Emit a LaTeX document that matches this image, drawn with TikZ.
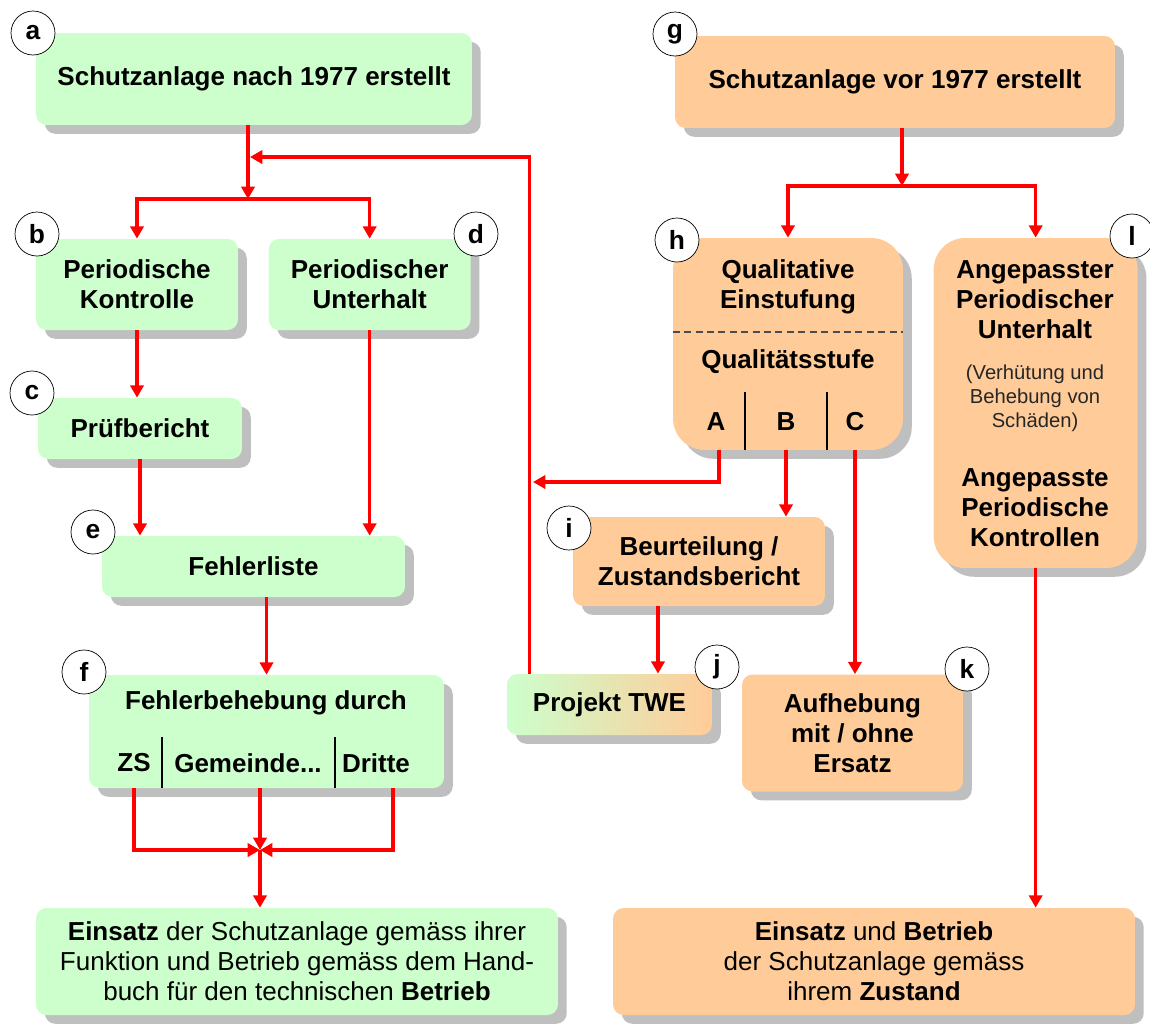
\documentclass[tikz,border=0pt]{standalone}
\usepackage{fontspec}
\setmainfont{Liberation Sans}
\usepackage{tikz}
\usetikzlibrary{calc,positioning,arrows.meta,shadows}
\definecolor{grn}{HTML}{CCFFCC}
\definecolor{org}{HTML}{FFCC99}

\begin{document}
\begin{tikzpicture}
		[x=0.02cm, y=-0.02cm, font=\bfseries\fontsize{14.8}{17}\selectfont,
		% STYLES
		every node/.style={align=center},
		% every step is a rounded box with a grey shadow
		box/.style={rectangle, rounded corners=6pt, inner sep=0pt,
			drop shadow={shadow xshift=5pt, shadow yshift=-5pt, fill=black!25, opacity=1}},
		% steps for plants built after 1977
		newBox/.style={box, fill=grn},
		% steps for plants built before 1977
		oldBox/.style={box, fill=org},
		% the letter in the little circle
		tag/.style={circle, draw, thin, fill=white, minimum size=0.88cm, inner sep=0pt, font=\bfseries\fontsize{15}{15}\selectfont},
		% normal (not bold) text
		plainText/.style={font=\mdseries\fontsize{14.8}{17}\selectfont},
		smallText/.style={font=\mdseries\fontsize{11.5}{13.6}\selectfont, text=black!85},
		% separators inside a box
		sep/.style={line width=0.6pt},
		% red links
		link/.style={->, red, line width=2pt},
		>={Triangle[width=7.5pt,length=7pt]}]

		\path[use as bounding box, fill=white] (0,0) rectangle (1150,1029);

		% Left column
		\node [newBox, minimum width=8.72cm, minimum height=1.84cm] (a) at (254,79) {Schutzanlage nach 1977 erstellt};
		\node [newBox, minimum width=4.04cm, minimum height=1.82cm] (b) at (137,284.5) {Periodische\\Kontrolle};
		\node [newBox, minimum width=4.04cm, minimum height=1.82cm, right=0.6cm of b] (d) {Periodischer\\Unterhalt};
		\node [newBox, minimum width=4.08cm, minimum height=1.22cm] (c) at (140,428.5) {Prüfbericht};
		\node [newBox, minimum width=6.06cm, minimum height=1.22cm] (e) at (253.5,566.5) {Fehlerliste};
		\node [newBox, minimum width=7.1cm, minimum height=2.26cm] (f) at (266.5,731.5) {};
		\node (fTitle) at (266,703) {Fehlerbehebung durch};
		\node (fZS) at (134,763) {ZS};
		\node (fGem) at (248,763) {Gemeinde...};
		\node (fDri) at (376,763) {Dritte};
		\draw[sep] (162,737) -- (162,788);
		\draw[sep] (335,737) -- (335,788);
		\node [newBox, plainText, minimum width=10.44cm, minimum height=2.14cm] (bl) at (297,961.5)
			{\textbf{Einsatz} der Schutzanlage gemäss ihrer\\Funktion und Betrieb gemäss dem Hand-\\buch für den technischen \textbf{Betrieb}};

		% Right part
		\node [oldBox, minimum width=8.8cm, minimum height=1.84cm] (g) at (895,82) {Schutzanlage vor 1977 erstellt};
		\node [oldBox, rounded corners=18pt, minimum width=4.6cm, minimum height=4.24cm] (h) at (788,344) {};
		\node (hTitle) at (788,287) {Qualitative\\Einstufung};
		\draw[dashed, dash pattern=on 4pt off 2.5pt, black!70, line width=0.7pt] (h.west |- 0,332) -- (h.east |- 0,332);
		\node (hStufe) at (788,362) {Qualitätsstufe};
		\node (hA) at (716,422) {A};
		\node (hB) at (786,422) {B};
		\node (hC) at (855,422) {C};
		\draw[sep] (745,392) -- (745,392 |- h.south);
		\draw[sep] (827,392) -- (827,392 |- h.south);
		\node [oldBox, rounded corners=18pt, minimum width=4.08cm, minimum height=6.6cm,
			right=0.6cm of h.north east, anchor=north west] (l) {};
		\node (lTop) at (1035,300) {Angepasster\\Periodischer\\Unterhalt};
		\node [smallText] (lMid) at (1035,398) {(Verhütung und\\Behebung von\\Schäden)};
		\node (lBot) at (1035,508) {Angepasste\\Periodische\\Kontrollen};
		\node [oldBox, minimum width=5.04cm, minimum height=1.78cm] (i) at (699,561.5) {Beurteilung /\\Zustandsbericht};
		\node [box, left color=grn, right color=org, minimum width=4.1cm, minimum height=1.22cm] (j) at (609.5,704.5) {Projekt TWE};
		\node [oldBox, minimum width=4.42cm, minimum height=2.34cm] (k) at (852.5,733) {Aufhebung\\mit / ohne\\Ersatz};
		\node [oldBox, plainText, minimum width=10.44cm, minimum height=2.14cm] (br) at (874,961.5)
			{\textbf{Einsatz} und \textbf{Betrieb}\\der Schutzanlage gemäss\\ihrem \textbf{Zustand}};

		%%%%%%%%%%%%%%%
		% Letters
		\node [tag] (tagA) at (33,33) {a};
		\node [tag] (tagB) at (37,234) {b};
		\node [tag] (tagC) at (32,393) {c};
		\node [tag] (tagD) at (476,234) {d};
		\node [tag] (tagE) at (93,532) {e};
		\node [tag] (tagF) at (84,672) {f};
		\node [tag] (tagG) at (675,34) {g};
		\node [tag] (tagH) at (677,240) {h};
		\node [tag] (tagI) at (569,528) {i};
		\node [tag] (tagJ) at (717,667) {j};
		\node [tag] (tagK) at (967,669) {k};
		\node [tag] (tagL) at (1132,236) {l};

		%%%%%%%%%%%%%%%%
		% Links
		\coordinate (aSplit) at (248,199);
		\coordinate (aLoop) at (250,157);
		\coordinate (gSplit) at (902,186);
		\coordinate (loopA) at (533,482);
		\coordinate (fJoin) at (260,850);
		\coordinate (iOut) at ($(i.south)+(-41,0)$);
		\coordinate (jOut) at ($(j.north west)+(23,0)$);
		\coordinate (fDriOut) at ($(fDri |- f.south)+(17,0)$);

		\draw[link] (a.south -| aSplit) -- (aSplit);
		\draw[link] (aSplit) -| (b);
		\draw[link] (aSplit) -| (d);
		\draw[link] (b.south) -- (b.south |- c.north);
		\draw[link] (c.south) -- (c.south |- e.north);
		\draw[link] (d.south) -- (d.south |- e.north);
		\draw[link] (f.north |- e.south) -- (f.north);
		\draw[link] (fZS |- f.south) |- (fJoin);
		\draw[link] (f.south -| fJoin) -- (fJoin);
		\draw[link] (fDriOut) |- (fJoin);
		\draw[link] (fJoin) -- (fJoin |- bl.north);

		\draw[link] (g.south -| gSplit) -- (gSplit);
		\draw[link] (gSplit) -| (h);
		\draw[link] (gSplit) -| (l);
		\draw[link] ($(hA |- h.south)+(3,0)$) |- (loopA);
		\draw[link] (hB |- h.south) -- (hB |- i.north);
		\draw[link] (hC |- h.south) -- (hC |- k.north);
		\draw[link] (iOut) -- (iOut |- j.north);
		\draw[link] (jOut) |- (aLoop);
		\draw[link] (l.south) -- (l.south |- br.north);
\end{tikzpicture}
\end{document}
